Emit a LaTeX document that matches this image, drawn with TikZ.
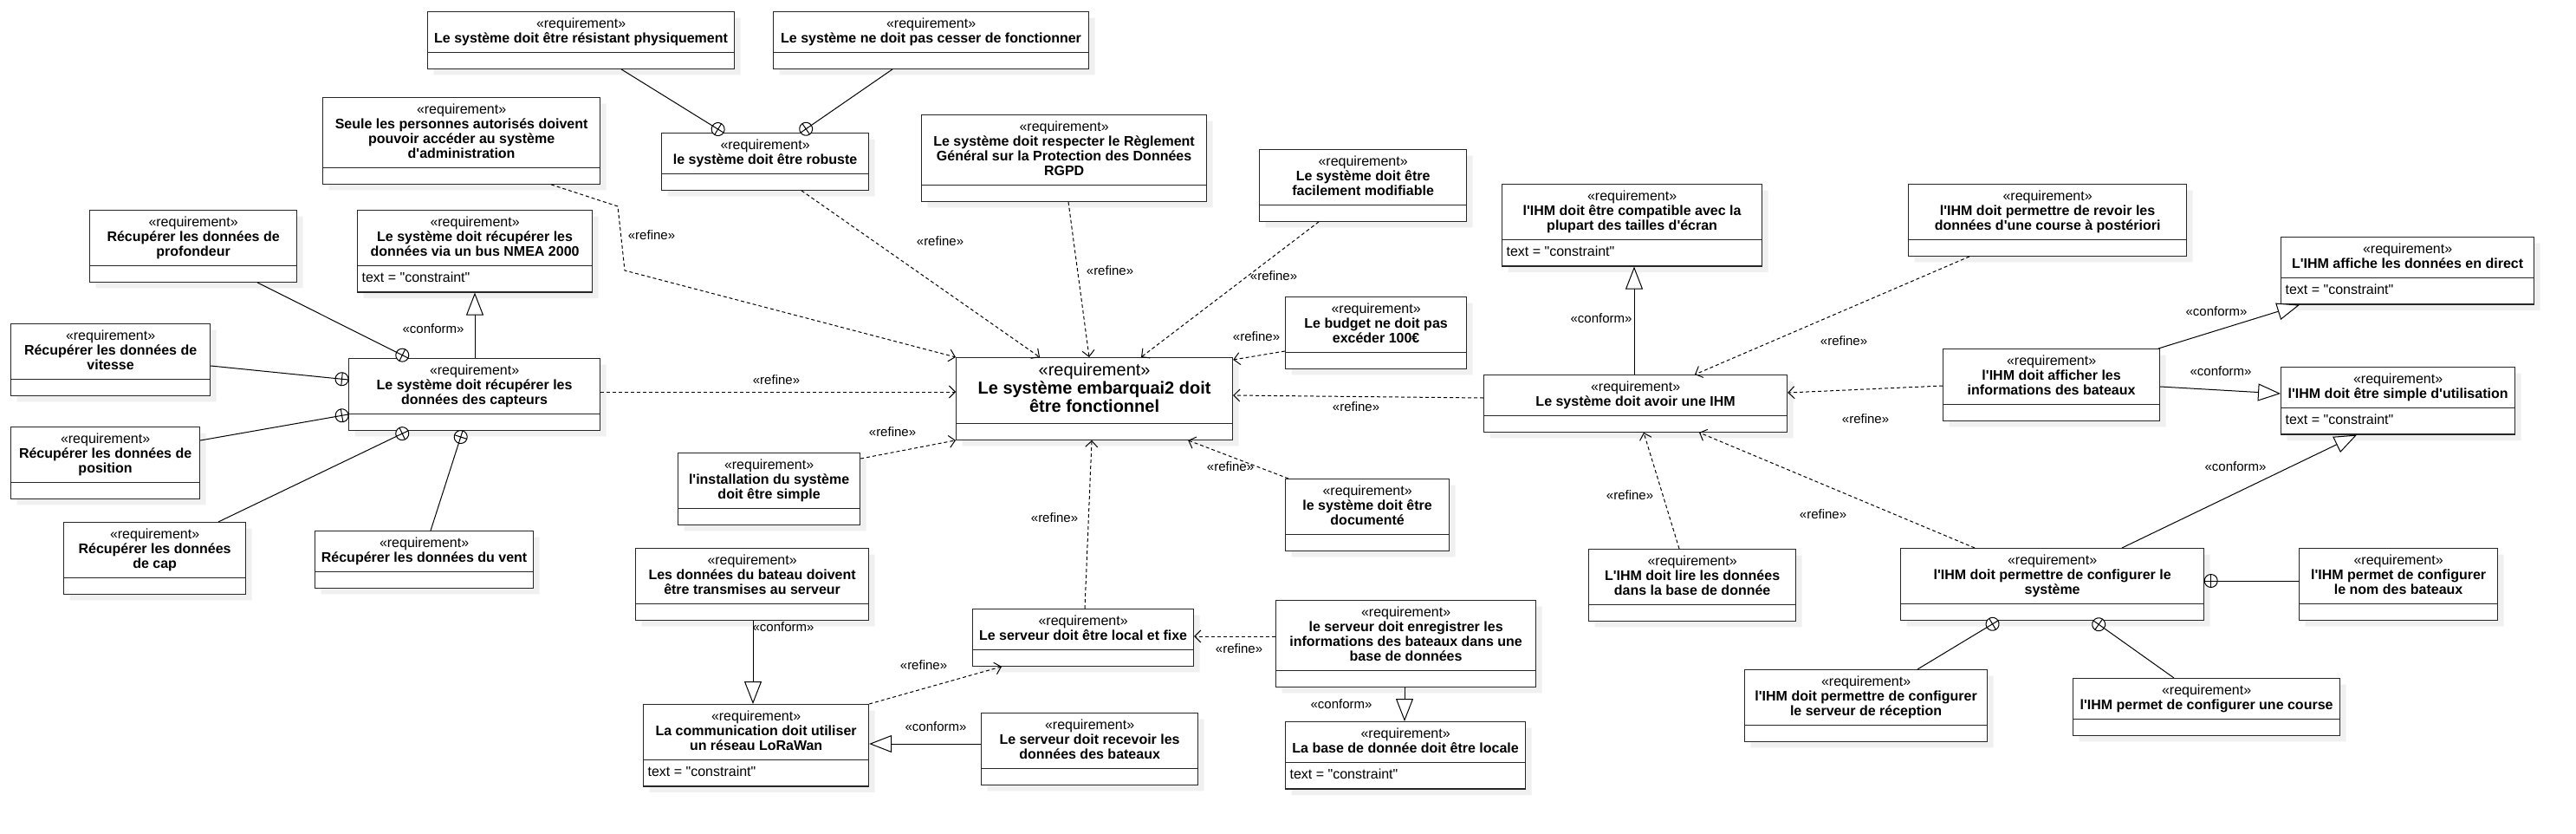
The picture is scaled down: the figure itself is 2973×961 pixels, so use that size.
\documentclass[tikz,border=0pt]{standalone}
\usepackage{fontspec}
\setmainfont{Liberation Sans}[Ligatures=TeXOff]
\usetikzlibrary{shapes.multipart,arrows.meta,decorations.markings,shadows}
\lineskiplimit=-20pt
\newcommand{\reqst}{{\mdseries\strut«requirement»}\\}

\begin{document}
\begin{tikzpicture}[
    x=1pt, y=-1pt,
    reqbox/.style={rectangle split, rectangle split parts=2,
                   rectangle split part align={center,left},
                   rectangle split empty part height=0pt, rectangle split empty part depth=0pt,
                   draw=black!85, line width=1.2pt, fill=white, align=center,
                   anchor=north west, inner xsep=5pt, inner ysep=6pt,
                   font=\fontsize{16}{17}\selectfont\bfseries,
                   drop shadow={shadow xshift=7pt, shadow yshift=-7pt, fill=black!6, opacity=1}},
    mainbox/.style={reqbox, font=\fontsize{20}{21}\selectfont\bfseries},
    refinearr/.style={line width=1pt, dash pattern=on 4pt off 3pt,
                      -{Straight Barb[length=7pt, width=14pt]}},
    conformarr/.style={line width=1pt, -{Triangle[length=26pt, width=20pt, fill=white]}},
    containarr/.style={line width=1pt, postaction={decorate, decoration={markings,
                      mark=at position 1 with {\draw[line width=1pt, fill=white] (-7.5pt,0pt) circle (7.5pt);
                      \draw[line width=1pt] (-15pt,0pt) -- (0pt,0pt) (-7.5pt,-7.5pt) -- (-7.5pt,7.5pt);}}}},
    lbl/.style={font=\fontsize{15}{17}\selectfont, inner sep=0pt},
]
\useasboundingbox[fill=white] (0,0) rectangle (2973,961);

% top row
\node[reqbox, minimum width=354pt] (res)   at (493,13)  {\reqst Le système doit être résistant physiquement\strut\nodepart{two}};
\node[reqbox, minimum width=364pt] (cess)  at (892,13)  {\reqst Le système ne doit pas cesser de fonctionner\strut\nodepart{two}};
\node[reqbox, minimum width=239pt] (robu)  at (763,153) {\reqst le système doit être robuste\strut\nodepart{two}};
\node[reqbox, minimum width=320pt] (seule) at (372,112) {\reqst Seule les personnes autorisés doivent\\pouvoir accéder au système\\d'administration\strut\nodepart{two}};
\node[reqbox, minimum width=329pt] (rgpd)  at (1063,132) {\reqst Le système doit respecter le Règlement\\Général sur la Protection des Données\\RGPD\strut\nodepart{two}};
\node[reqbox, minimum width=239pt] (modif) at (1453,172) {\reqst Le système doit être\\facilement modifiable\strut\nodepart{two}};
\node[reqbox, minimum width=300pt] (compat) at (1733,212) {\reqst l'IHM doit être compatible avec la\\plupart des tailles d'écran\strut\nodepart{two}\mdseries text = "constraint"\strut};
\node[reqbox, minimum width=321pt] (revoir) at (2202,212) {\reqst l'IHM doit permettre de revoir les\\données d'une course à postériori\strut\nodepart{two}};
\node[reqbox, minimum width=292pt] (direct) at (2632,273) {\reqst L'IHM affiche les données en direct\strut\nodepart{two}\mdseries text = "constraint"\strut};

% capteurs
\node[reqbox, minimum width=239pt] (prof) at (103,242) {\reqst Récupérer les données de\\profondeur\strut\nodepart{two}};
\node[reqbox, minimum width=271pt] (nmea) at (412,242) {\reqst Le système doit récupérer les\\données via un bus NMEA 2000\strut\nodepart{two}\mdseries text = "constraint"\strut};
\node[reqbox, minimum width=230pt] (vit)  at (12,373)  {\reqst Récupérer les données de\\vitesse\strut\nodepart{two}};
\node[reqbox, minimum width=290pt] (capt) at (402,413) {\reqst Le système doit récupérer les\\données des capteurs\strut\nodepart{two}};
\node[reqbox, minimum width=218pt] (pos)  at (12,492)  {\reqst Récupérer les données de\\position\strut\nodepart{two}};
\node[reqbox, minimum width=210pt] (cap)  at (73,602)  {\reqst Récupérer les données\\de cap\strut\nodepart{two}};
\node[reqbox, minimum width=252pt] (vent) at (363,612) {\reqst Récupérer les données du vent\strut\nodepart{two}};

% centre
\node[mainbox, minimum width=319pt] (main) at (1103,412) {\reqst Le système embarquai2 doit\\être fonctionnel\strut\nodepart{two}};
\node[reqbox, minimum width=210pt] (inst)   at (782,522)  {\reqst l'installation du système\\doit être simple\strut\nodepart{two}};
\node[reqbox, minimum width=209pt] (budget) at (1483,342) {\reqst Le budget ne doit pas\\excéder 100€\strut\nodepart{two}};
\node[reqbox, minimum width=189pt] (doc)    at (1483,552) {\reqst le système doit être\\documenté\strut\nodepart{two}};

% IHM
\node[reqbox, minimum width=350pt] (ihm)    at (1712,432) {\reqst Le système doit avoir une IHM\strut\nodepart{two}};
\node[reqbox, minimum width=250pt] (affi)   at (2242,402) {\reqst l'IHM doit afficher les\\informations des bateaux\strut\nodepart{two}};
\node[reqbox, minimum width=270pt] (simple) at (2632,423) {\reqst l'IHM doit être simple d'utilisation\strut\nodepart{two}\mdseries text = "constraint"\strut};
\node[reqbox, minimum width=239pt] (lire)   at (1833,633) {\reqst L'IHM doit lire les données\\dans la base de donnée\strut\nodepart{two}};
\node[reqbox, minimum width=350pt] (conf)   at (2193,632) {\reqst l'IHM doit permettre de configurer le\\système\strut\nodepart{two}};
\node[reqbox, minimum width=229pt] (nom)    at (2653,632) {\reqst l'IHM permet de configurer\\le nom des bateaux\strut\nodepart{two}};
\node[reqbox, minimum width=280pt] (recep)  at (2013,772) {\reqst l'IHM doit permettre de configurer\\le serveur de réception\strut\nodepart{two}};
\node[reqbox, minimum width=308pt] (course) at (2392,782) {\reqst l'IHM permet de configurer une course\strut\nodepart{two}};

% serveur
\node[reqbox, minimum width=269pt] (trans)  at (733,632)  {\reqst Les données du bateau doivent\\être transmises au serveur\strut\nodepart{two}};
\node[reqbox, minimum width=255pt] (local)  at (1122,702) {\reqst Le serveur doit être local et fixe\strut\nodepart{two}};
\node[reqbox, minimum width=300pt] (enreg)  at (1472,692) {\reqst le serveur doit enregistrer les\\informations des bateaux dans une\\base de données\strut\nodepart{two}};
\node[reqbox, minimum width=260pt] (lora)   at (742,812)  {\reqst La communication doit utiliser\\un réseau LoRaWan\strut\nodepart{two}\mdseries text = "constraint"\strut};
\node[reqbox, minimum width=250pt] (recev)  at (1132,822) {\reqst Le serveur doit recevoir les\\données des bateaux\strut\nodepart{two}};
\node[reqbox, minimum width=277pt] (locale) at (1483,832) {\reqst La base de donnée doit être locale\strut\nodepart{two}\mdseries text = "constraint"\strut};

% refine
\coordinate (sw1) at (713,238);
\coordinate (sw2) at (721,312);
\draw[refinearr] ([xshift=264pt]seule.south west) -- (sw1) -- (sw2) -- (main.north west);
\draw[refinearr] ([xshift=162pt]robu.south west) -- ([xshift=97pt]main.north west);
\draw[refinearr] ([xshift=170pt]rgpd.south west) -- ([xshift=154pt]main.north west);
\draw[refinearr] ([xshift=69pt]modif.south west) -- ([xshift=214pt]main.north west);
\draw[refinearr] ([yshift=-63pt]budget.north west) -- ([yshift=-3pt]main.north east);
\draw[refinearr] ([yshift=-27pt]ihm.north west) -- ([yshift=-44pt]main.north east);
\draw[refinearr] ([xshift=4pt]doc.north west) -- ([xshift=-52pt]main.south east);
\draw[refinearr] ([xshift=130pt]local.north west) -- ([xshift=157pt]main.south west);
\draw[refinearr] ([yshift=-7pt]inst.north east) -- (main.south west);
\draw[refinearr] ([yshift=-39pt]capt.north east) -- ([yshift=-40pt]main.north west);
\draw[refinearr] ([xshift=71pt]revoir.south west) -- ([xshift=244pt]ihm.north west);
\draw[refinearr] ([yshift=-43pt]affi.north west) -- ([yshift=-21pt]ihm.north east);
\draw[refinearr] ([xshift=105pt]lire.north west) -- ([xshift=185pt]ihm.south west);
\draw[refinearr] ([xshift=86pt]conf.north west) -- ([xshift=249pt]ihm.south west);
\draw[refinearr] (lora.north east) -- ([xshift=34pt]local.south west);
\draw[refinearr] ([yshift=-42pt]enreg.north west) -- ([yshift=-32pt]local.north east);

% conform
\draw[conformarr] ([xshift=146pt]capt.north west) -- ([xshift=136pt]nmea.south west);
\draw[conformarr] ([xshift=174pt]ihm.north west) -- ([xshift=153pt]compat.south west);
\draw[conformarr] ([xshift=249pt]affi.north west) -- ([xshift=22pt]direct.south west);
\draw[conformarr] ([yshift=-44pt]affi.north east) -- ([yshift=-31pt]simple.north west);
\draw[conformarr] ([xshift=256pt]conf.north west) -- ([xshift=88pt]simple.south west);
\draw[conformarr] ([xshift=136pt]trans.south west) -- ([xshift=127pt]lora.north west);
\draw[conformarr] ([yshift=-36pt]recev.north west) -- ([yshift=-46pt]lora.north east);
\draw[conformarr] ([xshift=149pt]enreg.south west) -- ([xshift=138pt]locale.north west);

% containment
\draw[containarr] ([xshift=224pt]res.south west) -- ([xshift=72pt]robu.north west);
\draw[containarr] ([xshift=138pt]cess.south west) -- ([xshift=161pt]robu.north west);
\draw[containarr] ([xshift=194pt]prof.south west) -- ([xshift=69pt]capt.north west);
\draw[containarr] ([yshift=-49pt]vit.north east) -- ([yshift=-25pt]capt.north west);
\draw[containarr] ([yshift=-16pt]pos.north east) -- ([yshift=-65pt]capt.north west);
\draw[containarr] ([xshift=179pt]cap.north west) -- ([xshift=69pt]capt.south west);
\draw[containarr] ([xshift=134pt]vent.north west) -- ([xshift=132pt]capt.south west);
\draw[containarr] ([yshift=-38pt]nom.north west) -- ([yshift=-38pt]conf.north east);
\draw[containarr] ([xshift=200pt]recep.north west) -- ([xshift=113pt]conf.south west);
\draw[containarr] ([xshift=117pt]course.north west) -- ([xshift=223pt]conf.south west);

% labels
\node[lbl] (lseule)  at (752,271)  {«refine»};
\node[lbl] (lrobu)   at (1085,278) {«refine»};
\node[lbl] (lrgpd)   at (1281,312) {«refine»};
\node[lbl] (lmodif)  at (1470,318) {«refine»};
\node[lbl] (lbudget) at (1450,388) {«refine»};
\node[lbl] (lihm)    at (1565,469) {«refine»};
\node[lbl] (ldoc)    at (1420,538) {«refine»};
\node[lbl] (llocal)  at (1217,597) {«refine»};
\node[lbl] (linst)   at (1030,498) {«refine»};
\node[lbl] (lcapt)   at (896,438)  {«refine»};
\node[lbl] (lrevoir) at (2128,393) {«refine»};
\node[lbl] (laffi)   at (2153,483) {«refine»};
\node[lbl] (llire)   at (1881,571) {«refine»};
\node[lbl] (lconf)   at (2104,593) {«refine»};
\node[lbl] (llora)   at (1066,767) {«refine»};
\node[lbl] (lenreg)  at (1430,748) {«refine»};
\node[lbl] (cnmea)   at (500,379)  {«conform»};
\node[lbl] (ccompat) at (1848,367) {«conform»};
\node[lbl] (cdirect) at (2558,359) {«conform»};
\node[lbl] (csimple) at (2563,428) {«conform»};
\node[lbl] (cconf)   at (2580,538) {«conform»};
\node[lbl] (ctrans)  at (904,723)  {«conform»};
\node[lbl] (crecev)  at (1080,838) {«conform»};
\node[lbl] (clocale) at (1548,812) {«conform»};

\end{tikzpicture}
\end{document}
